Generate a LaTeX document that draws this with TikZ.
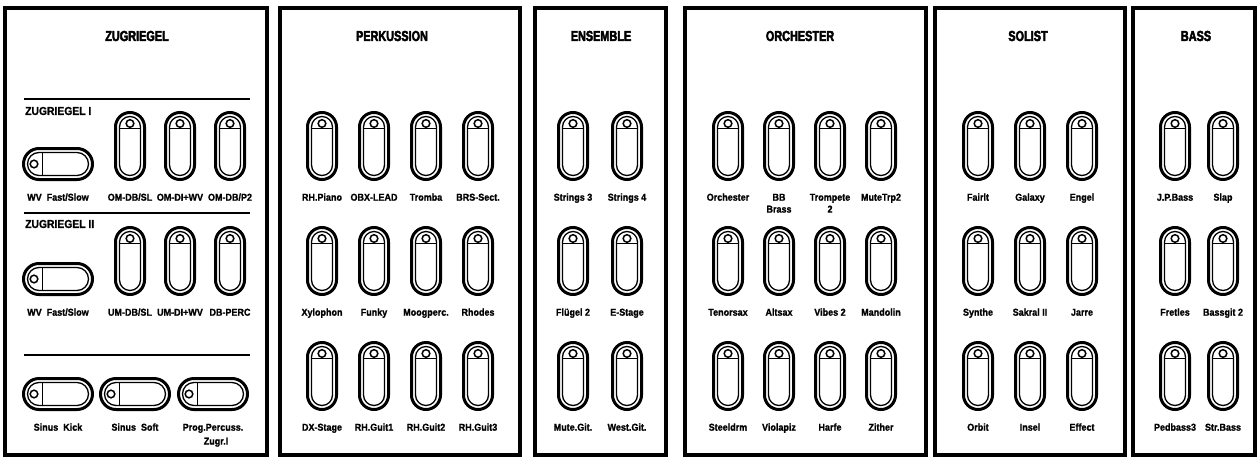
\documentclass[tikz,border=0pt]{standalone}
\usepackage{fontspec}
\setmainfont{Liberation Sans}
\newfontfamily\panelfont{Liberation Sans}[FakeStretch=0.75, BoldFeatures={FakeBold=3}]
\newfontfamily\lblfont{Liberation Sans}[FakeStretch=0.9, BoldFeatures={FakeBold=1.2}]
\usetikzlibrary{positioning}
\tikzset{
  panel/.style={draw, line width=3.5pt},
  rule/.style={line width=2pt},
  heading/.style={font=\panelfont\bfseries\fontsize{14.5}{14}\selectfont, inner sep=0pt},
  sub/.style={font=\lblfont\bfseries\fontsize{11.5}{12}\selectfont, inner sep=0pt, anchor=west},
  lbl/.style={font=\lblfont\bfseries\fontsize{10}{12}\selectfont, inner sep=1pt,
              text height=7.5pt, text depth=2pt},
  vtab/.style={draw, line width=3pt, minimum width=29pt, minimum height=67pt,
               rounded corners=14.5pt, inner sep=0pt,
               path picture={
                 \draw[line width=1.3pt, rounded corners=10.5pt]
                   ([shift={(4pt,4pt)}]path picture bounding box.south west) rectangle
                   ([shift={(-4pt,-4pt)}]path picture bounding box.north east);
                 \draw[line width=1.5pt] ([yshift=-11pt]path picture bounding box.north) circle (3.8pt);
                 \draw[line width=1.3pt] ([shift={(-10.5pt,-16pt)}]path picture bounding box.north)
                   -- ([shift={(10.5pt,-16pt)}]path picture bounding box.north);
               }},
  htab/.style={draw, line width=3pt, minimum width=69pt, minimum height=31pt,
               rounded corners=15.5pt, inner sep=0pt,
               path picture={
                 \draw[line width=1.3pt, rounded corners=11.5pt]
                   ([shift={(4pt,4pt)}]path picture bounding box.south west) rectangle
                   ([shift={(-4pt,-4pt)}]path picture bounding box.north east);
                 \draw[line width=1.5pt] ([xshift=10.5pt]path picture bounding box.west) circle (3.8pt);
                 \draw[line width=1.3pt] ([shift={(19pt,-11.5pt)}]path picture bounding box.west)
                   -- ([shift={(19pt,11.5pt)}]path picture bounding box.west);
               }},
}
% one row of drawbars: name, first x, step, y, labels
\newcommand{\tabrow}[5]{%
  \foreach \t [count=\c] in {#5} {
    \node[vtab] (#1\c) at ({#2+#3*(\c-1)},#4) {};
    \node[lbl, below=11pt of #1\c] (#1\c-t) {\t};
  }}

\begin{document}
\begin{tikzpicture}[x=1pt, y=-1pt]
  \useasboundingbox (0,0) rectangle (1259,461);

  % panels
  \draw[panel] (5,8)    rectangle (267,455);
  \draw[panel] (280,8)  rectangle (520,455);
  \draw[panel] (535,8)  rectangle (666,455);
  \draw[panel] (685,8)  rectangle (926,455);
  \draw[panel] (935,8)  rectangle (1125,455);
  \draw[panel] (1133,8) rectangle (1255,455);

  \node[heading] (zugT)  at (137,36)  {ZUGRIEGEL};
  \node[heading] (perkT) at (392,36)  {PERKUSSION};
  \node[heading] (ensT)  at (601,36)  {ENSEMBLE};
  \node[heading] (orT)   at (800,36)  {ORCHESTER};
  \node[heading] (solT)  at (1028,36) {SOLIST};
  \node[heading] (bassT) at (1196,36) {BASS};

  % zugriegel
  \draw[rule] (24,99) -- (250,99);
  \node[sub] (zugI) at (25,111) {ZUGRIEGEL I};
  \node[htab] (wvA) at (58,164) {};
  \node[lbl, below=11pt of wvA] (wvA-t) {WV~~Fast/Slow};
  \tabrow{omA}{130}{50}{146}{OM-DB/SL, OM-DI+WV, OM-DB/P2}

  \draw[rule] (24,213) -- (250,213);
  \node[sub] (zugII) at (25,224) {ZUGRIEGEL II};
  \node[htab] (wvB) at (58,279) {};
  \node[lbl, below=11pt of wvB] (wvB-t) {WV~~Fast/Slow};
  \tabrow{umB}{130}{50}{261}{UM-DB/SL, UM-DI+WV, DB-PERC}

  \draw[rule] (24,355) -- (250,355);
  \node[htab] (kick) at (58,394)  {};
  \node[htab] (soft) at (135,394) {};
  \node[htab] (prog) at (213,394) {};
  \node[lbl, below=11pt of kick] (kick-t) {Sinus~~Kick};
  \node[lbl, below=11pt of soft] (soft-t) {Sinus~~Soft};
  \node[lbl, below=11pt of prog] (prog-t) {Prog.Percuss.};
  \node[lbl, below=2pt of prog-t, xshift=3pt] (prog-u) {Zugr.I};

  % perkussion
  \tabrow{peA}{322}{52}{146}{RH.Piano, OBX-LEAD, Tromba, BRS-Sect.}
  \tabrow{peB}{322}{52}{261}{Xylophon, Funky, Moogperc., Rhodes}
  \tabrow{peC}{322}{52}{376}{DX-Stage, RH.Guit1, RH.Guit2, RH.Guit3}

  % ensemble
  \tabrow{enA}{573}{54}{146}{Strings 3, Strings 4}
  \tabrow{enB}{573}{54}{261}{Flügel 2, E-Stage}
  \tabrow{enC}{573}{54}{376}{Mute.Git., West.Git.}

  % orchester
  \tabrow{orA}{728}{51}{146}{Orchester, BB, Trompete, MuteTrp2}
  \node[lbl, below=0pt of orA2-t] (orA2-u) {Brass};
  \node[lbl, below=0pt of orA3-t] (orA3-u) {2};
  \tabrow{orB}{728}{51}{261}{Tenorsax, Altsax, Vibes 2, Mandolin}
  \tabrow{orC}{728}{51}{376}{Steeldrm, Violapiz, Harfe, Zither}

  % solist
  \tabrow{soA}{978}{52}{146}{Fairlt, Galaxy, Engel}
  \tabrow{soB}{978}{52}{261}{Synthe, Sakral II, Jarre}
  \tabrow{soC}{978}{52}{376}{Orbit, Insel, Effect}

  % bass
  \tabrow{baA}{1175}{48}{146}{J.P.Bass, Slap}
  \tabrow{baB}{1175}{48}{261}{Fretles, Bassgit 2}
  \tabrow{baC}{1175}{48}{376}{Pedbass3, Str.Bass}
\end{tikzpicture}
\end{document}
